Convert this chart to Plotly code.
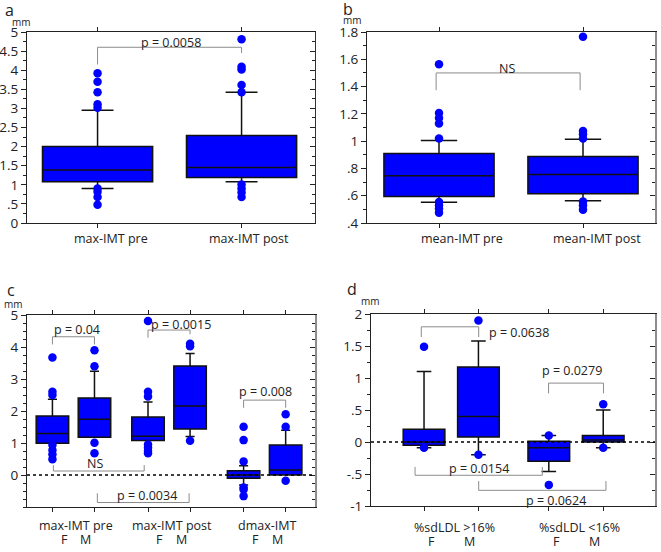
import numpy as np
import plotly.graph_objects as go

# ---- panel a : max-IMT (mm)
A_LABELS = ["max-IMT pre", "max-IMT post"]
A_Q1 = [1.08, 1.19]
A_MED = [1.39, 1.45]
A_Q3 = [2.00, 2.29]
A_LO = [0.90, 1.08]
A_HI = [2.95, 3.42]
A_OUT = [
    [3.92, 3.70, 3.42, 3.11, 3.02, 0.90, 0.82, 0.68, 0.48],
    [4.81, 4.09, 4.02, 3.61, 3.42, 1.01, 0.90, 0.80, 0.68],
]

# ---- panel b : mean-IMT (mm)
B_LABELS = ["mean-IMT pre", "mean-IMT post"]
B_Q1 = [0.595, 0.615]
B_MED = [0.747, 0.755]
B_Q3 = [0.909, 0.887]
B_LO = [0.552, 0.564]
B_HI = [1.004, 1.014]
B_OUT = [
    [1.563, 1.206, 1.17, 1.13, 1.02, 0.554, 0.53, 0.506, 0.476],
    [1.766, 1.074, 1.05, 1.02, 0.557, 0.53, 0.498],
]

# ---- panel c : by sex (F, M per group)
C_GROUPS = ["max-IMT pre", "max-IMT post", "dmax-IMT"]
C_Q1 = [0.99, 1.18, 1.08, 1.44, -0.10, 0.00]
C_MED = [1.30, 1.74, 1.21, 2.16, 0.00, 0.16]
C_Q3 = [1.84, 2.41, 1.81, 3.41, 0.13, 0.94]
C_LO = [0.99, 1.18, 1.08, 1.20, -0.31, 0.00]
C_HI = [2.37, 3.24, 2.28, 3.80, 0.29, 1.40]
C_OUT = [
    [3.67, 2.60, 2.50, 0.94, 0.78, 0.65, 0.49],
    [3.90, 3.40, 1.01, 0.68],
    [4.81, 2.60, 2.45, 0.95, 0.85, 0.75, 0.68],
    [4.10, 4.02, 1.07],
    [1.51, 1.09, 0.42, -0.39, -0.45, -0.66],
    [1.90, 1.51, -0.18],
]

# ---- panel d : by %sdLDL and sex
D_GROUPS = ["%sdLDL >16%", "%sdLDL <16%"]
D_Q1 = [-0.05, 0.08, -0.30, 0.00]
D_MED = [0.00, 0.40, -0.09, 0.03]
D_Q3 = [0.20, 1.17, 0.01, 0.10]
D_LO = [-0.09, -0.20, -0.46, -0.09]
D_HI = [1.10, 1.58, 0.10, 0.50]
D_OUT = [
    [1.49, -0.09],
    [1.90, -0.20],
    [0.10, -0.67],
    [0.59, -0.09],
]

SEX = ["F", "M"]

# brackets: (x left, x right, bar y, left leg end, right leg end, label, label x, label y)
A_BRACKETS = [(0, 1, 4.60, 4.15, 4.45, "p = 0.0058", 0.51, 4.72)]
B_BRACKETS = [(-0.02, 0.98, 1.50, 1.373, 1.373, "NS", 0.47, 1.535)]
C_BRACKETS = [
    (-0.22, 0.22, 4.32, 4.08, 4.08, "p = 0.04", 0.04, 4.56),
    (0.78, 1.22, 4.53, 4.29, 4.40, "p = 0.0015", 1.13, 4.69),
    (-0.21, 0.74, 0.125, 0.31, 0.31, "NS", 0.23, 0.36),
    (0.25, 1.21, -0.86, -0.57, -0.57, "p = 0.0034", 0.77, -0.65),
    (1.78, 2.22, 2.34, 2.10, 2.10, "p = 0.008", 2.01, 2.62),
]
D_BRACKETS = [
    (-0.24, 0.22, 1.80, 1.64, 1.64, "p = 0.0638", 0.54, 1.71),
    (0.78, 1.22, 0.92, 0.76, 0.76, "p = 0.0279", 0.97, 1.11),
    (-0.29, 0.73, -0.52, -0.39, -0.39, "p = 0.0154", 0.22, -0.41),
    (0.22, 1.24, -0.755, -0.61, -0.61, "p = 0.0624", 0.84, -0.91),
]

W, H = 661, 552
BLUE = "#0000FF"
FONT = "Open Sans"
GRAY = "#8C8C8C"


def px_x(p):
    return p / W


def px_y(p):
    return 1 - p / H


def note(**kw):
    # centred annotation, no arrow
    fig.add_annotation(showarrow=False, xanchor="center", yanchor="middle", **kw)


fig = go.Figure()


def add_panel(n, pos, q1, med, q3, lo, hi, outs, width, wwidth, brackets):
    xa, ya = f"x{n}", f"y{n}"
    for i, x in enumerate(pos):
        fig.add_trace(go.Box(
            x=[x], q1=[q1[i]], median=[med[i]], q3=[q3[i]],
            lowerfence=[lo[i]], upperfence=[hi[i]],
            width=width, whiskerwidth=wwidth, boxpoints=False,
            fillcolor=BLUE, line=dict(color="#111111", width=1.5),
            xaxis=xa, yaxis=ya, showlegend=False, hoverinfo="skip",
        ))
    for x0, x1, yb, yl, yr, txt, tx, ty in brackets:
        fig.add_trace(go.Scatter(
            x=[x0, x0, x1, x1], y=[yl, yb, yb, yr], mode="lines",
            line=dict(color=GRAY, width=1), xaxis=xa, yaxis=ya,
            showlegend=False, hoverinfo="skip",
        ))
        note(x=tx, y=ty, xref=xa, yref=ya, text=txt,
             font=dict(size=12.5, color="#222"))
    for i, x in enumerate(pos):
        fig.add_trace(go.Scatter(
            x=[x] * len(outs[i]), y=outs[i], mode="markers",
            marker=dict(color=BLUE, size=8.5), xaxis=xa, yaxis=ya,
            showlegend=False, hoverinfo="skip",
        ))
    # dummy trace for right-side tick axis
    fig.add_trace(go.Scatter(x=[None], y=[None], xaxis=xa, yaxis=f"y{n + 4}",
                             showlegend=False, hoverinfo="skip"))


pos_a = [0, 1]
pos_c = [g + d for g in range(3) for d in (-0.22, 0.22)]
pos_d = [g + d for g in range(2) for d in (-0.218, 0.218)]

add_panel(1, pos_a, A_Q1, A_MED, A_Q3, A_LO, A_HI, A_OUT, 0.765, 0.29, A_BRACKETS)
add_panel(2, pos_a, B_Q1, B_MED, B_Q3, B_LO, B_HI, B_OUT, 0.765, 0.33, B_BRACKETS)
add_panel(3, pos_c, C_Q1, C_MED, C_Q3, C_LO, C_HI, C_OUT, 0.34, 0.28, C_BRACKETS)
add_panel(4, pos_d, D_Q1, D_MED, D_Q3, D_LO, D_HI, D_OUT, 0.334, 0.35, D_BRACKETS)


def fmt(v):
    s = f"{v:g}"
    if s.startswith("0."):
        s = s[1:]
    if s.startswith("-0."):
        s = "-" + s[2:]
    return s


panels = [
    # n, x px domain, y px domain, x range, tick positions, y range, major, minor, right color
    (1, (27, 315), (32, 223), (-0.49, 1.51), pos_a, (0, 5), 0.5, 0.25, "#333333"),
    (2, (367, 655), (32, 223), (-0.5, 1.5), pos_a, (0.4, 1.8), 0.2, 0.1, GRAY),
    (3, (27, 315), (315, 507), (-0.486, 2.527), pos_c, (-1, 5), 1, 0.25, GRAY),
    (4, (371, 655), (314, 506), (-0.643, 1.633), pos_d, (-1, 2), 0.5, 0.25, GRAY),
]

lay = {}
for n, (xl, xr), (yt, yb), xr_, ticks, (y0, y1), major, minor, rc in panels:
    sfx = "" if n == 1 else str(n)
    vals = np.round(np.arange(y0, y1 + 1e-9, major), 4)
    text = [fmt(v) for v in vals]
    if n == 3:
        text[0] = ""
    mvals = np.round(np.arange(y0, y1 + 1e-9, minor), 4)
    lay["xaxis" + sfx] = dict(
        domain=[px_x(xl), px_x(xr)], anchor="y" + str(n), range=list(xr_),
        tickmode="array", tickvals=ticks, showticklabels=False,
        ticks="outside", ticklen=4, tickcolor="#222", mirror="ticks",
        showline=True, linecolor="#222", linewidth=1,
        showgrid=False, zeroline=False, automargin=False,
    )
    lay["yaxis" + sfx] = dict(
        domain=[px_y(yb), px_y(yt)], anchor="x" + str(n), range=[y0, y1],
        tickmode="array", tickvals=vals, ticktext=text,
        ticks="outside", ticklen=5, tickcolor="#222",
        minor=dict(tickmode="array", tickvals=mvals, ticks="outside",
                   ticklen=3, tickcolor="#222"),
        showline=True, linecolor="#222", linewidth=1,
        showgrid=False, zeroline=False, automargin=False,
        tickfont=dict(size=13.5, color="#222"),
    )
    lay["yaxis" + str(n + 4)] = dict(
        overlaying="y" + str(n), side="right", anchor="x" + str(n),
        range=[y0, y1], tickmode="array", tickvals=vals, showticklabels=False,
        ticks="inside", ticklen=5, tickcolor="#222",
        minor=dict(tickmode="array", tickvals=mvals, ticks="inside",
                   ticklen=3, tickcolor="#222"),
        showline=True, linecolor=rc, linewidth=1.5 if n > 1 else 1,
        showgrid=False, zeroline=False, automargin=False,
    )

fig.update_layout(
    width=W, height=H, margin=dict(l=0, r=0, t=0, b=0),
    paper_bgcolor="white", plot_bgcolor="white",
    font=dict(family=FONT, color="#222"), **lay,
)

# dotted zero lines in c and d
for n in (3, 4):
    fig.add_shape(type="line", xref=f"x{n} domain", yref=f"y{n}",
                  x0=0, x1=1, y0=0, y1=0,
                  line=dict(color="black", width=1.5, dash="dot"))

# panel letters and unit labels
for letter, lx, ly, mx, my in [
    ("a", 9, 10, 21, 22), ("b", 348, 9, 352, 20),
    ("c", 11, 290, 13, 304), ("d", 352, 289, 370, 301),
]:
    note(x=px_x(lx), y=px_y(ly), xref="paper", yref="paper",
         text=letter, font=dict(size=16))
    note(x=px_x(mx), y=px_y(my), xref="paper", yref="paper",
         text="mm", font=dict(size=10))

# category labels
for n, labels, offs in [(1, A_LABELS, (0.09, 0.05)), (2, B_LABELS, (0.16, 0.1))]:
    for i, lab in enumerate(labels):
        note(x=pos_a[i] + offs[i], y=px_y(238), xref=f"x{n}", yref="paper",
             text=lab, font=dict(size=12.5))

for n, groups, fo, mo in [(3, C_GROUPS, -0.095, 0.13), (4, D_GROUPS, -0.155, 0.15)]:
    top, bot = (525, 539) if n == 3 else (527, 541)
    for g, lab in enumerate(groups):
        note(x=g + 0.03, y=px_y(top), xref=f"x{n}", yref="paper",
             text=lab, font=dict(size=12.5))
        for s, off in zip(SEX, (fo, mo)):
            note(x=g + off, y=px_y(bot), xref=f"x{n}", yref="paper",
                 text=s, font=dict(size=12.5))

# the page body has a default margin; drop it so the figure sits at the corner
fig.write_html("out.html", config={"displayModeBar": False},
               post_script="document.body.style.margin='0';")
